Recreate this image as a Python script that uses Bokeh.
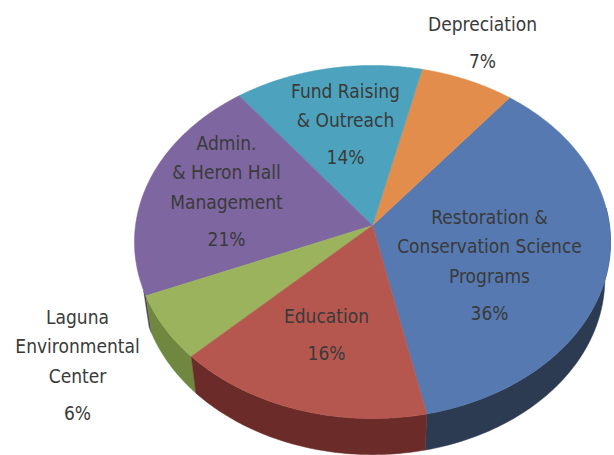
import numpy as np
from bokeh.plotting import figure
from bokeh.models import Range1d
from bokeh.core.properties import value
from bokeh.embed import file_html
from bokeh.resources import INLINE

# ---- data (counter-clockwise order on the pie, starting at the blue slice) ----
categories = [
    "Restoration & Conservation Science Programs",
    "Depreciation",
    "Fund Raising & Outreach",
    "Admin. & Heron Hall Management",
    "Laguna Environmental Center",
    "Education",
]
shares = [36, 7, 14, 21, 6, 16]
label_lines = [
    ["Restoration &", "Conservation Science", "Programs"],
    ["Depreciation"],
    ["Fund Raising", "& Outreach"],
    ["Admin.", "& Heron Hall", "Management"],
    ["Laguna", "Environmental", "Center"],
    ["Education"],
]
pct_labels = ["36%", "7%", "14%", "21%", "6%", "16%"]

# ---- styles / layout ----
top_colors = ["#5579B0", "#E28D4B", "#4DA3BD", "#7E66A0", "#9AB35C", "#B5574F"]
side_colors = ["#2C3A52", "#8A5026", "#2B6373", "#4A3A60", "#70873F", "#6B2C29"]
label_pos = [(489, 216), (482, 23), (345, 90), (226, 142), (77, 316), (326, 315)]
LINE_STEP = 29.5
PCT_STEP = 37
FONT = "DejaVu Sans Condensed, DejaVu Sans, sans-serif"
FONT_SIZE = "19px"
TEXT_COLOR = "#3a3a3a"

W, H = 614, 455
CX, CY = 372.0, 225.0
K = 237.0
ALPHA = np.radians(42.4)
D = 7.22
THICK = 0.24
START = np.radians(-78)


def project(theta, w=0.0):
    v = np.sin(theta) * np.cos(ALPHA) + w * np.sin(ALPHA)
    z = np.sin(theta) * np.sin(ALPHA) - w * np.cos(ALPHA)
    sc = D / (D + z)
    return CX + K * np.cos(theta) * sc, CY - K * v * sc


fr = np.array(shares, dtype=float) / sum(shares)
edges = START + 2 * np.pi * np.concatenate([[0], np.cumsum(fr)])

p = figure(width=W, height=H, x_range=Range1d(0, W), y_range=Range1d(H, 0),
           output_backend="svg", toolbar_location=None, min_border=0)
p.axis.visible = False
p.grid.visible = False
p.outline_line_color = None
p.background_fill_color = "white"

# visible outer wall ranges (front part of the rim)
vis = [(START, 0.1), (np.radians(201), START + 2 * np.pi)]

side_xs, side_ys, side_c = [], [], []
for i in range(len(shares)):
    a0, a1 = edges[i], edges[i + 1]
    for v0, v1 in vis:
        t0, t1 = max(a0, v0), min(a1, v1)
        if t1 <= t0:
            continue
        th = np.linspace(t0, t1, 80)
        xt, yt = project(th, 0.0)
        xb, yb = project(th[::-1], -THICK)
        side_xs.append(list(np.concatenate([xt, xb])))
        side_ys.append(list(np.concatenate([yt, yb])))
        side_c.append(side_colors[i])
p.patches(side_xs, side_ys, fill_color=side_c, line_color=side_c, line_width=0.5)

top_xs, top_ys = [], []
for i in range(len(shares)):
    th = np.linspace(edges[i], edges[i + 1], 120)
    xt, yt = project(th, 0.0)
    top_xs.append([CX] + list(xt))
    top_ys.append([CY] + list(yt))
p.patches(top_xs, top_ys, fill_color=top_colors, line_color=top_colors, line_width=0.5)

tx, ty, tt = [], [], []
for i in range(len(shares)):
    x0, y0 = label_pos[i]
    for j, ln in enumerate(label_lines[i]):
        tx.append(x0); ty.append(y0 + j * LINE_STEP); tt.append(ln)
    tx.append(x0); ty.append(y0 + (len(label_lines[i]) - 1) * LINE_STEP + PCT_STEP); tt.append(pct_labels[i])
p.text(tx, ty, text=tt, text_align="center", text_baseline="middle",
       text_font=value(FONT), text_font_size=FONT_SIZE, text_color=TEXT_COLOR)

open("out.html", "w").write(file_html(p, INLINE))
